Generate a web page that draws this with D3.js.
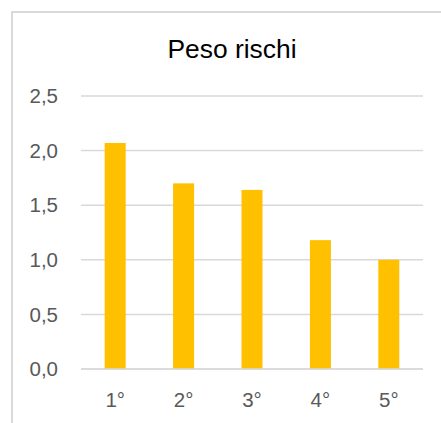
<!DOCTYPE html>
<html>
<head>
<meta charset="utf-8">
<script src="https://cdn.jsdelivr.net/npm/d3@7"></script>
<style>
html,body{margin:0;padding:0;background:#fff;}
svg{display:block;}
</style>
</head>
<body>
<script>
const categories = ["1°","2°","3°","4°","5°"];
const values = [2.07, 1.70, 1.64, 1.18, 1.00];
const yTicks = [0, 0.5, 1.0, 1.5, 2.0, 2.5];
const title = "Peso rischi";

const W = 441, H = 423;
const svg = d3.select("body").append("svg").attr("width", W).attr("height", H);

// chart area border (extends beyond the viewport on right/bottom)
svg.append("rect").attr("x", 12).attr("y", 12).attr("width", 460).attr("height", 440)
  .attr("fill", "#fff").attr("stroke", "#D9D9D9").attr("stroke-width", 2);

const x = d3.scaleBand().domain(categories).range([81, 423]).paddingInner(0.693).paddingOuter(0.3465);
const y = d3.scaleLinear().domain([0, 2.5]).range([369, 96]);

const fmt = v => d3.format(".1f")(v).replace(".", ",");

// gridlines
svg.append("g").selectAll("line").data(yTicks).join("line")
  .attr("x1", 81).attr("x2", 423)
  .attr("y1", d => y(d)).attr("y2", d => y(d))
  .attr("stroke", "#D9D9D9").attr("stroke-width", 1.5);

// bars
svg.append("g").selectAll("rect").data(values).join("rect")
  .attr("x", (d, i) => x(categories[i]))
  .attr("width", x.bandwidth())
  .attr("y", d => y(d))
  .attr("height", d => y(0) - y(d))
  .attr("fill", "#FFC000");

// redraw baseline on top
svg.append("line").attr("x1", 81).attr("x2", 423).attr("y1", y(0)).attr("y2", y(0))
  .attr("stroke", "#D9D9D9").attr("stroke-width", 1.5);

// y labels
svg.append("g").selectAll("text").data(yTicks).join("text")
  .attr("x", 58).attr("y", d => y(d)).attr("dy", "0.35em")
  .attr("text-anchor", "end")
  .attr("font-family", "Liberation Sans, Arial, sans-serif").attr("font-size", 20.5)
  .attr("fill", "#595959")
  .text(fmt);

// x labels
svg.append("g").selectAll("text").data(categories).join("text")
  .attr("x", d => x(d) + x.bandwidth() / 2).attr("y", 407)
  .attr("text-anchor", "middle")
  .attr("font-family", "Liberation Sans, Arial, sans-serif").attr("font-size", 20.5)
  .attr("fill", "#595959")
  .text(d => d);

// title
svg.append("text").attr("x", 232).attr("y", 58).attr("text-anchor", "middle")
  .attr("font-family", "Liberation Sans, Arial, sans-serif").attr("font-size", 26.4)
  .attr("fill", "#000")
  .text(title);
</script>
</body>
</html>
